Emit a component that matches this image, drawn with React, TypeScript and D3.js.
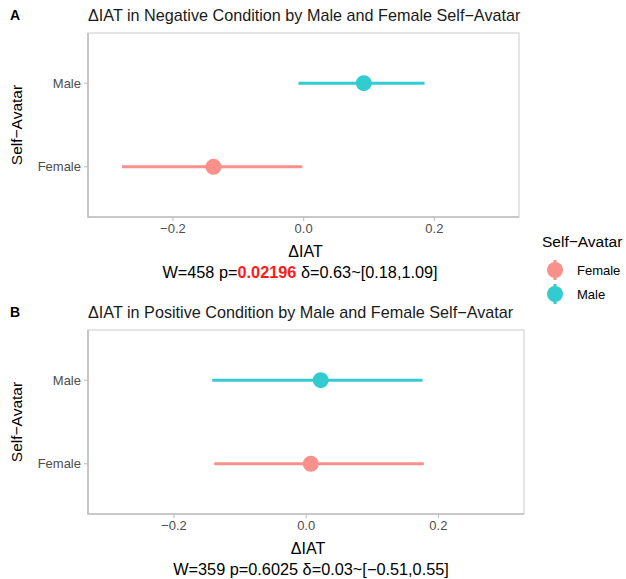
import React from "react";
import * as d3 from "d3";

// groups in legend order
const groups = ["Female", "Male"];
const groupColors = ["#F8766D", "#00BFC4"];

// negative condition: mean and interval per group
const negMean = [-0.138, 0.092];
const negLo = [-0.278, -0.008];
const negHi = [-0.002, 0.185];

// positive condition
const posMean = [0.007, 0.022];
const posLo = [-0.139, -0.142];
const posHi = [0.178, 0.176];

const xTicks = [-0.2, 0.0, 0.2];

const FONT = "'Liberation Sans', Arial, Helvetica, sans-serif";

const fmt = (v: number) => d3.format(".1f")(v).replace("-", "\u2212");

type PanelProps = {
  tag: string;
  title: string;
  top: number;
  bottom: number;
  left: number;
  right: number;
  mean: number[];
  lo: number[];
  hi: number[];
  captionX: number;
  caption: React.ReactNode;
};

function Panel(p: PanelProps) {
  const x = d3.scaleLinear().domain([-0.33, 0.3295]).range([p.left, p.right]);
  const y = d3
    .scalePoint<string>()
    .domain(["Male", "Female"])
    .range([p.top, p.bottom])
    .padding(0.6);
  const midX = (p.left + p.right) / 2;
  const midY = (p.top + p.bottom) / 2;

  return (
    <g>
      <text x={10} y={p.top - 13} fontSize={14} fontWeight="bold" fontFamily={FONT}>
        {p.tag}
      </text>
      <text x={p.left} y={p.top - 12} fontSize={16.2} fontFamily={FONT} fill="#1a1a1a">
        {p.title}
      </text>
      {/* panel */}
      <rect
        x={p.left}
        y={p.top}
        width={p.right - p.left}
        height={p.bottom - p.top}
        fill="white"
        stroke="#d4d4d4"
        strokeWidth={1.2}
      />
      <line x1={p.left} x2={p.left} y1={p.top} y2={p.bottom + 0.5} stroke="#bebebe" strokeWidth={1.6} />
      <line x1={p.left} x2={p.right} y1={p.bottom} y2={p.bottom} stroke="#bebebe" strokeWidth={1.6} />

      {/* y axis */}
      {y.domain().map((g) => (
        <g key={g}>
          <line x1={p.left - 4} x2={p.left} y1={y(g)} y2={y(g)} stroke="#bbbbbb" />
          <text
            x={p.left - 7}
            y={y(g)!}
            dy="0.35em"
            textAnchor="end"
            fontSize={13}
            fontFamily={FONT}
            fill="#4d4d4d"
          >
            {g}
          </text>
        </g>
      ))}
      <text
        transform={`translate(22,${midY}) rotate(-90)`}
        textAnchor="middle"
        fontSize={15.5}
        fontFamily={FONT}
        fill="#000"
      >
        Self{"\u2212"}Avatar
      </text>

      {/* x axis */}
      {xTicks.map((t) => (
        <g key={t}>
          <line x1={x(t)} x2={x(t)} y1={p.bottom} y2={p.bottom + 4} stroke="#bbbbbb" />
          <text
            x={x(t)}
            y={p.bottom + 16}
            textAnchor="middle"
            fontSize={13}
            fontFamily={FONT}
            fill="#4d4d4d"
          >
            {fmt(t)}
          </text>
        </g>
      ))}
      <text x={midX + 2} y={p.bottom + 39.5} textAnchor="middle" fontSize={16} fontFamily={FONT} fill="#000">
        ΔIAT
      </text>
      <text x={p.captionX} y={p.bottom + 61} textAnchor="middle" fontSize={16.3} fontFamily={FONT} fill="#000">
        {p.caption}
      </text>

      {/* point ranges */}
      {groups.map((g, i) => (
        <g key={g} opacity={0.8}>
          <line
            x1={x(p.lo[i])}
            x2={x(p.hi[i])}
            y1={y(g)}
            y2={y(g)}
            stroke={groupColors[i]}
            strokeWidth={3}
          />
          <circle cx={x(p.mean[i])} cy={y(g)} r={8} fill={groupColors[i]} />
        </g>
      ))}
    </g>
  );
}

export default function App() {
  return (
    <svg
      width={626}
      height={579}
      style={{ position: "absolute", left: 0, top: 0, background: "white" }}
    >
      <Panel
        tag="A"
        title={"ΔIAT in Negative Condition by Male and Female Self\u2212Avatar"}
        top={33}
        bottom={217}
        left={88}
        right={519}
        mean={negMean}
        lo={negLo}
        hi={negHi}
        captionX={300}
        caption={
          <>
            <tspan>W=458 p=</tspan>
            <tspan fill="#ff1a1a" fontWeight="bold">0.02196</tspan>
            <tspan> δ=0.63~[0.18,1.09]</tspan>
          </>
        }
      />
      <Panel
        tag="B"
        title={"ΔIAT in Positive Condition by Male and Female Self\u2212Avatar"}
        top={330}
        bottom={514}
        left={88}
        right={524}
        mean={posMean}
        lo={posLo}
        hi={posHi}
        captionX={311}
        caption={"W=359 p=0.6025 δ=0.03~[\u22120.51,0.55]"}
      />

      {/* legend */}
      <text x={542} y={247} fontSize={15.5} fontFamily={FONT} fill="#000">
        Self{"\u2212"}Avatar
      </text>
      {groups.map((g, i) => (
        <g key={g} transform={`translate(555,${270 + i * 24})`}>
          <g opacity={0.8}>
            <line x1={0} x2={0} y1={-10} y2={10} stroke={groupColors[i]} strokeWidth={3} />
            <circle r={8} fill={groupColors[i]} />
          </g>
          <text x={22} dy="0.35em" fontSize={13} fontFamily={FONT} fill="#000">
            {g}
          </text>
        </g>
      ))}
    </svg>
  );
}
